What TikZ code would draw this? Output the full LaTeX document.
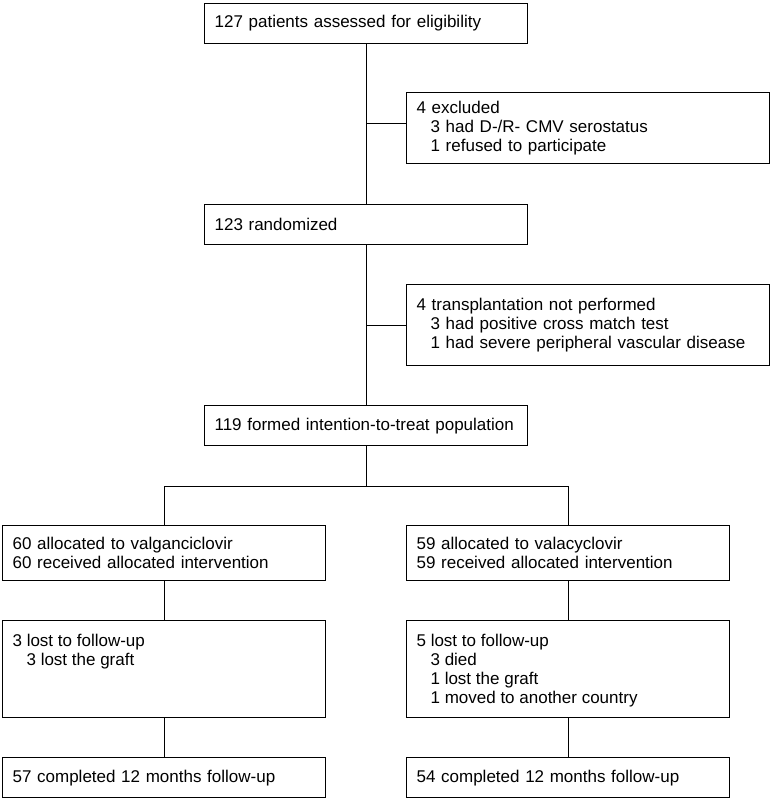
\documentclass[tikz,border=0pt]{standalone}
\usepackage{fontspec}
\setmainfont{Liberation Sans}
\begin{document}
\begin{tikzpicture}[x=1pt,y=-1pt,
  box/.style={draw=black, line width=1.2pt, anchor=north west, inner xsep=10pt, inner ysep=0pt, align=left, font=\fontsize{17}{19}\selectfont},
  wide/.style={box, text width=303pt},
  wider/.style={box, text width=343pt},
  link/.style={draw=black, line width=1.2pt}]
\useasboundingbox (0,0) rectangle (770,800);
\newcommand{\ind}{\hspace*{14pt}}
\node[wide, minimum height=40pt] (assess) at (204,3) {127 patients assessed for eligibility};
\node[wider, minimum height=71pt] (excl) at (406,92) {4 excluded\\ \ind 3 had D-/R- CMV serostatus\\ \ind 1 refused to participate};
\node[wide, minimum height=40pt] (rand) at (204,204) {123 randomized};
\node[wider, minimum height=81pt] (notp) at (406,284) {4 transplantation not performed\\ \ind 3 had positive cross match test\\ \ind 1 had severe peripheral vascular disease};
\node[wide, minimum height=40pt] (itt) at (204,405) {119 formed intention-to-treat population};
\node[wide, minimum height=55pt] (allocL) at (2,525) {60 allocated to valganciclovir\\ 60 received allocated intervention};
\node[wide, minimum height=55pt] (allocR) at (406,525) {59 allocated to valacyclovir\\ 59 received allocated intervention};
\node[box, minimum height=97pt] (lostL) at (2,620) {\begin{minipage}[c][97pt][t]{303pt}\vspace*{14pt}3 lost to follow-up\\ \ind 3 lost the graft\end{minipage}};
\node[box, minimum height=97pt] (lostR) at (406,620) {\begin{minipage}[c][97pt][t]{303pt}\vspace*{14pt}5 lost to follow-up\\ \ind 3 died\\ \ind 1 lost the graft\\ \ind 1 moved to another country\end{minipage}};
\node[wide, minimum height=40pt] (compL) at (2,757) {57 completed 12 months follow-up};
\node[wide, minimum height=40pt] (compR) at (406,757) {54 completed 12 months follow-up};
\coordinate (j1) at ([yshift=4.5pt]assess.south |- excl.west);
\draw[link] (assess.south) -- (rand.north);
\draw[link] (j1) -- (j1 -| excl.west);
\draw[link] (rand.south) -- (itt.north);
\draw[link] (rand.south |- notp.west) -- (notp.west);
\draw[link] (itt.south) -- ++(0,40) coordinate (split);
\draw[link] (allocL.north) |- (split) -| (allocR.north);
\draw[link] (allocL.south) -- (lostL.north);
\draw[link] (lostL.south) -- (compL.north);
\draw[link] (allocR.south) -- (lostR.north);
\draw[link] (lostR.south) -- (compR.north);
\end{tikzpicture}
\end{document}
